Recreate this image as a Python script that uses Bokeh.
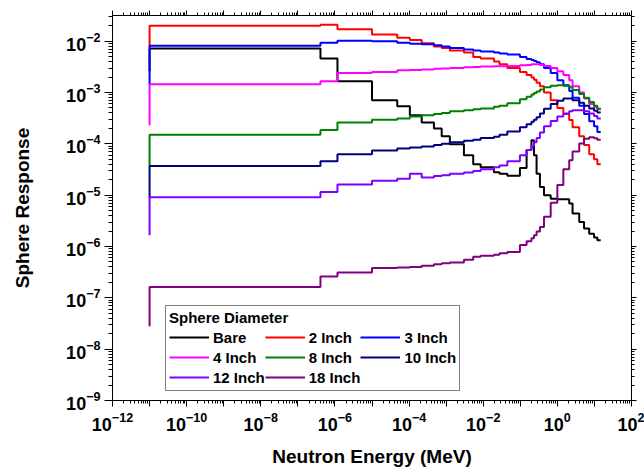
from bokeh.plotting import figure
from bokeh.models import (LogAxis, FixedTicker, NoOverlap, Legend, LegendItem,
                          Range1d)
from bokeh.embed import file_html
from bokeh.resources import INLINE

# Bin edges (MeV); each series: value at the first edge (start of the vertical
# rise), followed by the response in each bin.
energy_edges = [1e-11, 4.07e-7, 1.17e-6, 1.0e-5, 4.79e-5, 1.05e-4, 2.19e-4,
                4.68e-4, 7.59e-4, 1.26e-3, 3.02e-3, 5.37e-3, 8.51e-3, 1.95e-2,
                2.75e-2, 4.47e-2, 9.77e-2, 0.148, 0.2, 0.234, 0.275, 0.339,
                0.437, 0.661, 1.0, 1.45, 2.09, 2.57, 3.89, 5.25, 7.24, 9.77,
                12.0, 14.8]

bare = [2.6e-3, 7.2e-3, 4.6e-3, 1.66e-3, 7.1e-4, 5.4e-4, 3.6e-4, 2.6e-4,
        2.0e-4, 1.4e-4, 9.8e-5, 6.0e-5, 4.0e-5, 3.5e-5, 2.8e-5, 2.6e-5, 2.4e-5,
        3.4e-5, 7.6e-5, 1.17e-4, 6.0e-5, 2.6e-5, 1.45e-5, 1.0e-5, 8.5e-6,
        8.3e-6, 8.3e-6, 6.9e-6, 4.4e-6, 3.0e-6, 2.24e-6, 1.78e-6, 1.5e-6,
        1.32e-6]
inch2 = [7.8e-3, 2.0e-2, 2.1e-2, 1.7e-2, 1.35e-2, 1.17e-2, 1.05e-2, 9.1e-3,
         7.9e-3, 7.4e-3, 6.6e-3, 6.0e-3, 4.9e-3, 4.6e-3, 4.0e-3, 3.55e-3,
         3.0e-3, 2.5e-3, 2.2e-3, 1.95e-3, 1.78e-3, 1.55e-3, 1.32e-3, 1.0e-3,
         7.1e-4, 5.0e-4, 3.8e-4, 2.9e-4, 2.1e-4, 1.4e-4, 9.5e-5, 6.3e-5,
         5.0e-5, 4.0e-5]
inch3 = [1.4e-3, 8.1e-3, 9.3e-3, 1.02e-2, 1.0e-2, 9.3e-3, 8.9e-3, 8.7e-3,
         8.3e-3, 7.9e-3, 7.4e-3, 6.9e-3, 6.6e-3, 6.3e-3, 6.0e-3, 5.75e-3,
         5.5e-3, 4.9e-3, 4.5e-3, 4.3e-3, 4.1e-3, 3.9e-3, 3.55e-3, 3.0e-3,
         2.4e-3, 1.74e-3, 1.38e-3, 1.07e-3, 7.9e-4, 5.5e-4, 3.8e-4, 2.75e-4,
         2.2e-4, 1.7e-4]
inch4 = [2.3e-4, 1.45e-3, 1.66e-3, 2.4e-3, 2.5e-3, 2.7e-3, 2.75e-3, 2.8e-3,
         2.9e-3, 2.95e-3, 3.0e-3, 3.1e-3, 3.15e-3, 3.2e-3, 3.25e-3, 3.25e-3,
         3.3e-3, 3.4e-3, 3.45e-3, 3.55e-3, 3.55e-3, 3.55e-3, 3.45e-3, 3.3e-3,
         3.0e-3, 2.6e-3, 2.2e-3, 1.74e-3, 1.32e-3, 1.0e-3, 7.6e-4, 6.0e-4,
         5.2e-4, 4.7e-4]
inch8 = [3.7e-5, 1.5e-4, 1.86e-4, 2.6e-4, 2.95e-4, 3.1e-4, 3.4e-4, 3.6e-4,
         3.8e-4, 4.0e-4, 4.3e-4, 4.5e-4, 4.7e-4, 4.9e-4, 5.25e-4, 5.5e-4,
         6.2e-4, 7.4e-4, 8.3e-4, 9.1e-4, 9.8e-4, 1.05e-3, 1.15e-3, 1.26e-3,
         1.35e-3, 1.38e-3, 1.35e-3, 1.26e-3, 1.12e-3, 9.3e-4, 7.9e-4, 6.5e-4,
         5.5e-4, 4.8e-4]
inch10 = [9.0e-6, 3.7e-5, 4.6e-5, 6.3e-5, 7.4e-5, 8.1e-5, 8.5e-5, 8.9e-5,
          9.5e-5, 1.0e-4, 1.07e-4, 1.15e-4, 1.2e-4, 1.3e-4, 1.38e-4, 1.5e-4,
          1.74e-4, 2.1e-4, 2.4e-4, 2.7e-4, 2.95e-4, 3.3e-4, 3.9e-4, 4.8e-4,
          6.0e-4, 6.9e-4, 7.6e-4, 7.6e-4, 7.1e-4, 6.3e-4, 5.5e-4, 4.9e-4,
          4.4e-4, 4.1e-4]
inch12 = [1.66e-6, 9.1e-6, 1.15e-5, 1.62e-5, 1.9e-5, 2.1e-5, 2.6e-5, 2.2e-5,
          2.35e-5, 2.45e-5, 2.6e-5, 2.75e-5, 2.95e-5, 3.2e-5, 3.5e-5, 3.8e-5,
          4.6e-5, 6.0e-5, 7.6e-5, 9.1e-5, 1.07e-4, 1.3e-4, 1.66e-4, 2.2e-4,
          2.8e-4, 3.4e-4, 3.9e-4, 4.3e-4, 4.5e-4, 4.5e-4, 4.3e-4, 3.9e-4,
          3.5e-4, 3.1e-4]
inch18 = [2.8e-8, 1.62e-7, 2.6e-7, 3.1e-7, 3.8e-7, 3.9e-7, 4.0e-7, 4.2e-7,
          4.5e-7, 4.7e-7, 4.9e-7, 5.5e-7, 6.3e-7, 6.6e-7, 6.9e-7, 7.4e-7,
          7.8e-7, 1.07e-6, 1.26e-6, 1.45e-6, 1.66e-6, 1.95e-6, 2.4e-6, 3.8e-6,
          7.1e-6, 1.58e-5, 3.2e-5, 4.8e-5, 7.1e-5, 1.02e-4, 1.26e-4, 1.35e-4,
          1.29e-4, 1.2e-4]

series_labels = ["Bare", "2 Inch", "3 Inch", "4 Inch", "8 Inch", "10 Inch",
                 "12 Inch", "18 Inch"]
series_values = [bare, inch2, inch3, inch4, inch8, inch10, inch12, inch18]
series_colors = ["#000000", "#FF0000", "#0000FF", "#FF00FF", "#008000",
                 "#000080", "#8000FF", "#800080"]

x_major = [10.0 ** k for k in range(-12, 3)]
x_minor = [m * 10.0 ** k for k in range(-12, 2) for m in range(2, 10)]
y_major = [10.0 ** k for k in range(-9, -1)]
y_minor = [m * 10.0 ** k for k in range(-9, -1) for m in range(2, 10)]

p = figure(width=644, height=469, x_axis_type="log", y_axis_type="log",
           x_range=Range1d(1e-12, 1e2), y_range=Range1d(1e-9, 10 ** -1.5),
           output_backend="svg", toolbar_location=None,
           min_border_left=112, min_border_right=13, min_border_top=15,
           min_border_bottom=69)
p.xgrid.grid_line_color = None
p.ygrid.grid_line_color = None

xa = p.xaxis[0]
xa.ticker = FixedTicker(ticks=x_major, minor_ticks=x_minor)
xa.axis_label = "Neutron Energy (MeV)"
xa.major_label_policy = NoOverlap(min_distance=15)
ya = p.yaxis[0]
ya.ticker = FixedTicker(ticks=y_major, minor_ticks=y_minor)
ya.axis_label = "Sphere Response"

for ax in (xa, ya):
    ax.axis_label_text_font_style = "bold"
    ax.axis_label_text_font_size = "19px"
    ax.axis_label_text_color = "black"
    ax.major_label_text_font_style = "bold"
    ax.major_label_text_font_size = "18px"
    ax.major_label_text_color = "black"
    ax.major_tick_line_color = "black"
    ax.minor_tick_line_color = "black"
    ax.major_tick_in = 0
xa.major_tick_out = 6
xa.minor_tick_out = 3
xa.major_label_standoff = 5
xa.axis_label_standoff = 12
ya.major_tick_out = 8
ya.minor_tick_out = 4
ya.major_label_standoff = 4
ya.axis_label_standoff = 30

top = LogAxis(ticker=FixedTicker(ticks=x_major, minor_ticks=x_minor),
              major_label_text_font_size="1px", major_label_text_color=None,
              major_label_standoff=0, major_tick_out=5, minor_tick_out=3,
              major_tick_in=0, major_tick_line_color="black",
              minor_tick_line_color="black")
p.add_layout(top, "above")
right = LogAxis(ticker=FixedTicker(ticks=y_major, minor_ticks=y_minor),
                major_label_text_font_size="1px", major_label_text_color=None,
                major_label_standoff=0, major_tick_out=5, minor_tick_out=3,
                major_tick_in=0, major_tick_line_color="black",
                minor_tick_line_color="black")
p.add_layout(right, "right")

items = []
for lab, vals, col in zip(series_labels, series_values, series_colors):
    r = p.step(energy_edges, vals, mode="before", line_color=col,
               line_width=2)
    items.append(LegendItem(label=lab, renderers=[r]))

legend = Legend(items=items, title="Sphere Diameter", orientation="horizontal",
                ncols=3, location=(53, 9), margin=0, padding=3,
                spacing=0, glyph_width=40, glyph_height=20, label_height=20,
                label_standoff=4, title_standoff=1,
                title_text_font_style="bold",
                title_text_font_size="15px", title_text_color="black",
                label_text_font_style="bold",
                label_text_font_size="15px", label_text_color="black",
                border_line_color="black", border_line_width=1,
                background_fill_color="white", background_fill_alpha=1.0)
p.add_layout(legend)

open("out.html", "w").write(file_html(p, INLINE))
